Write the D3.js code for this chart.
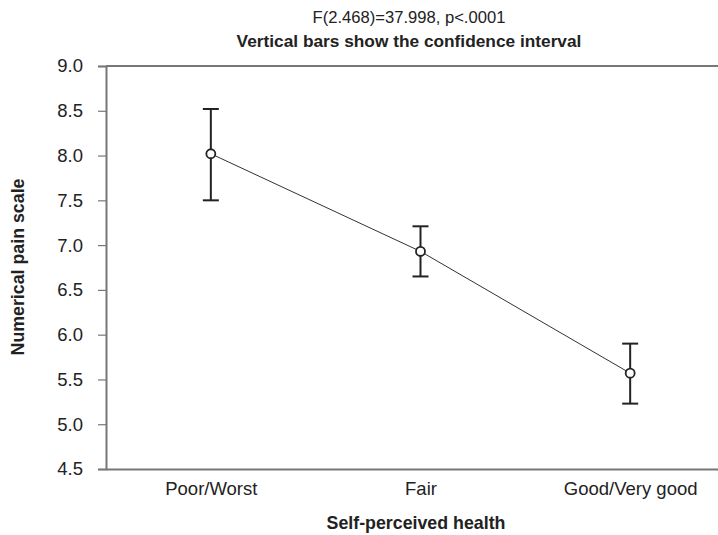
<!DOCTYPE html>
<html>
<head>
<meta charset="utf-8">
<script src="https://cdn.jsdelivr.net/npm/d3@7"></script>
<style>
  body { margin: 0; background: #fff; }
  svg { display: block; font-family: "Liberation Sans", Arial, sans-serif; }
</style>
</head>
<body>
<svg id="chart" width="718" height="535"></svg>
<script>
// data
var categories = ["Poor/Worst", "Fair", "Good/Very good"];
var means      = [8.02, 6.93, 5.57];
var ci_upper   = [8.52, 7.21, 5.90];
var ci_lower   = [7.50, 6.65, 5.23];
var y_ticks    = [4.5, 5.0, 5.5, 6.0, 6.5, 7.0, 7.5, 8.0, 8.5, 9.0];

var svg = d3.select('#chart');

var margin = {top: 66, left: 106, bottom: 469, right: 735};

var x = d3.scalePoint()
    .domain(categories)
    .range([margin.left, margin.right])
    .padding(0.5);

var y = d3.scaleLinear()
    .domain([4.5, 9.0])
    .range([margin.bottom, margin.top]);

// titles
svg.append('text')
    .attr('x', 409).attr('y', 23)
    .attr('text-anchor', 'middle')
    .style('font-size', '16.6px').style('fill', '#222')
    .text('F(2.468)=37.998, p<.0001');

svg.append('text')
    .attr('x', 409).attr('y', 47)
    .attr('text-anchor', 'middle')
    .style('font-size', '17.3px').style('font-weight', 'bold').style('fill', '#222')
    .text('Vertical bars show the confidence interval');

// top border
svg.append('line')
    .attr('x1', margin.left).attr('x2', 718)
    .attr('y1', margin.top).attr('y2', margin.top)
    .attr('stroke', '#777').attr('stroke-width', 2);

// y axis
var y_axis = svg.append('g')
    .attr('transform', `translate(${margin.left}, 0)`)
    .call(d3.axisLeft(y).tickValues(y_ticks).tickFormat(d3.format('.1f')).tickSize(8).tickPadding(15));
y_axis.attr('font-family', null).attr('font-size', null);
y_axis.select('.domain').attr('stroke', '#777').attr('stroke-width', 2);
y_axis.selectAll('.tick line').attr('stroke', '#777').attr('stroke-width', 1.2);
y_axis.selectAll('.tick text').style('font-size', '18.5px').style('fill', '#222');

// x axis
var x_axis = svg.append('g')
    .attr('transform', `translate(0, ${margin.bottom})`)
    .call(d3.axisBottom(x).tickSize(0).tickPadding(13));
x_axis.attr('font-family', null).attr('font-size', null);
x_axis.select('.domain').attr('stroke', '#777').attr('stroke-width', 2);
x_axis.selectAll('.tick text').style('font-size', '18.5px').style('fill', '#222');

// axis titles
svg.append('text')
    .attr('x', 416).attr('y', 529)
    .attr('text-anchor', 'middle')
    .style('font-size', '17.8px').style('font-weight', 'bold').style('fill', '#222')
    .text('Self-perceived health');

svg.append('text')
    .attr('transform', 'translate(24, 267) rotate(-90)')
    .attr('text-anchor', 'middle')
    .style('font-size', '17.8px').style('font-weight', 'bold').style('fill', '#222')
    .text('Numerical pain scale');

// connecting line
var line = d3.line()
    .x(function(d, i) { return x(categories[i]); })
    .y(function(d) { return y(d); });

svg.append('path')
    .datum(means)
    .attr('d', line)
    .attr('fill', 'none')
    .attr('stroke', '#333')
    .attr('stroke-width', 1);

// error bars
var cap = 8;
for (var i = 0; i < categories.length; i++) {
    var cx = x(categories[i]);
    var g = svg.append('g').attr('stroke', '#222').attr('stroke-width', 2);
    g.append('line')
        .attr('x1', cx).attr('x2', cx)
        .attr('y1', y(ci_lower[i])).attr('y2', y(ci_upper[i]));
    g.append('line')
        .attr('x1', cx - cap).attr('x2', cx + cap)
        .attr('y1', y(ci_upper[i])).attr('y2', y(ci_upper[i]));
    g.append('line')
        .attr('x1', cx - cap).attr('x2', cx + cap)
        .attr('y1', y(ci_lower[i])).attr('y2', y(ci_lower[i]));

    svg.append('circle')
        .attr('cx', cx).attr('cy', y(means[i]))
        .attr('r', 4.5)
        .attr('fill', '#fff')
        .attr('stroke', '#222')
        .attr('stroke-width', 1.8);
}
</script>
</body>
</html>
